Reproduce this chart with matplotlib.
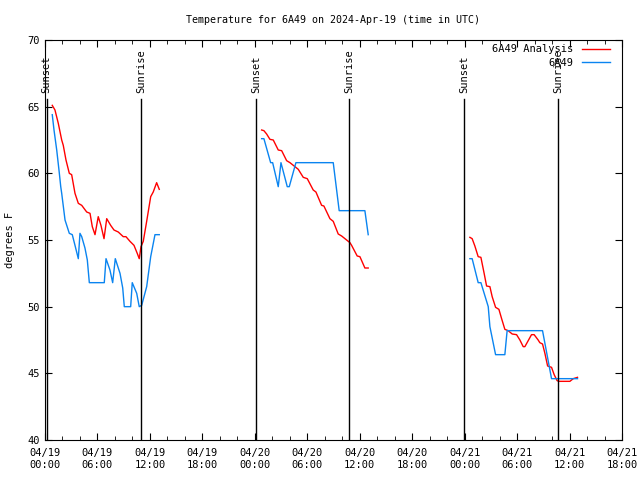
import matplotlib
matplotlib.use('Agg')
import matplotlib.pyplot as plt
import matplotlib.dates as mdates
import pandas as pd

start = pd.Timestamp('2024-04-19 00:00')

# analysis (red), hours after start; None splits the segments
ana_h = [0.83, 1.14, 1.52, 1.91, 2.09, 2.40, 2.78, 3.05, 3.43, 3.81, 4.20, 4.77, 5.15, 5.41,
         5.72, 6.09, 6.40, 6.75, 7.06, 7.51, 7.89, 8.38, 8.95, 9.26, 9.72, 10.18, 10.55,
         10.78, 10.98, 11.24, 11.63, 12.09, 12.38, 12.77, 13.07,
         None,
         24.78, 25.04, 25.35, 25.73, 26.11, 26.68, 27.07, 27.64, 28.02, 28.59, 28.97, 29.54,
         30.00, 30.68, 30.99, 31.64, 31.90, 32.59, 32.97, 33.54, 33.93, 34.88, 35.07, 35.71,
         36.02, 36.59, 36.97,
         None,
         48.60, 48.86, 49.17, 49.55, 49.86, 50.23, 50.51, 50.89, 51.15, 51.54, 51.92, 52.23,
         52.60, 52.98, 53.44, 53.94, 54.32, 54.70, 54.89, 55.27, 55.65, 55.95, 56.41, 56.60,
         56.91, 57.18, 57.49, 57.94, 58.24, 58.58, 58.78, 60.04, 60.42, 60.91]
ana_t = [65.1, 64.75, 63.75, 62.5, 62.1, 61.0, 60.0, 59.9, 58.5, 57.75, 57.6, 57.1, 57.0, 56.0,
         55.4, 56.75, 56.1, 55.1, 56.6, 56.1, 55.75, 55.6, 55.25, 55.25, 54.9, 54.6, 54.0,
         53.6, 54.5, 54.9, 56.4, 58.25, 58.6, 59.3, 58.8,
         None,
         63.25, 63.2, 62.95, 62.55, 62.5, 61.75, 61.7, 60.95, 60.8, 60.5, 60.3, 59.7,
         59.6, 58.75, 58.6, 57.6, 57.55, 56.6, 56.4, 55.45, 55.3, 54.8, 54.6, 53.8,
         53.75, 52.9, 52.9,
         None,
         55.2, 55.1, 54.55, 53.75, 53.7, 52.5, 51.55, 51.5, 50.75, 49.95, 49.8, 49.1,
         48.3, 48.2, 47.95, 47.9, 47.5, 47.0, 47.0, 47.45, 47.9, 47.9, 47.5, 47.3,
         47.2, 46.5, 45.55, 45.45, 44.9, 44.45, 44.4, 44.4, 44.6, 44.7]

# observations (blue)
obs_h = [0.83, 1.03, 1.34, 1.64, 1.80, 1.91, 2.29, 2.78, 3.12, 3.43, 3.81, 4.00, 4.20, 4.57,
         4.84, 5.07, 6.78, 6.98, 7.43, 7.74, 8.04, 8.58, 8.89, 9.07, 9.80, 9.98, 10.49,
         10.78, 11.06, 11.63, 12.09, 12.58, 13.07,
         None,
         24.78, 25.04, 25.81, 26.04, 26.68, 26.99, 27.71, 27.94, 28.70, 32.97, 33.65, 36.59,
         36.97,
         None,
         48.60, 48.86, 49.55, 49.86, 50.70, 50.89, 51.54, 52.60, 52.86, 56.91, 57.94, 60.91]
obs_t = [64.4, 63.25, 61.75, 60.0, 59.0, 58.5, 56.5, 55.5, 55.4, 54.6, 53.6, 55.5, 55.25, 54.4,
         53.5, 51.8, 51.8, 53.6, 52.75, 51.8, 53.6, 52.5, 51.4, 50.0, 50.0, 51.8, 51.0,
         50.0, 50.1, 51.5, 53.75, 55.4, 55.4,
         None,
         62.6, 62.6, 60.8, 60.8, 59.0, 60.8, 59.0, 59.0, 60.8, 60.8, 57.2, 57.2,
         55.4,
         None,
         53.6, 53.6, 51.8, 51.8, 50.0, 48.5, 46.4, 46.4, 48.2, 48.2, 44.6, 44.6]

sun_h = [0.2, 10.98, 24.13, 34.76, 47.91, 58.66]
sun_lbl = ['Sunset', 'Sunrise', 'Sunset', 'Sunrise', 'Sunset', 'Sunrise']


def segments(hours, vals):
    segs, xs, ys = [], [], []
    for h, v in zip(hours, vals):
        if h is None:
            segs.append((xs, ys))
            xs, ys = [], []
        else:
            xs.append((start + pd.Timedelta(hours=h)).to_pydatetime())
            ys.append(v)
    segs.append((xs, ys))
    return segs


plt.rcParams['font.family'] = 'DejaVu Sans Mono'
plt.rcParams['font.size'] = 7.5

fig = plt.figure(figsize=(6.4, 4.8), dpi=100)
ax = fig.add_axes([45 / 640, 40 / 480, 577 / 640, 400 / 480])

for i, (xs, ys) in enumerate(segments(ana_h, ana_t)):
    ax.plot(xs, ys, color='#ff0000', lw=1, label='6A49 Analysis' if i == 0 else None)
for i, (xs, ys) in enumerate(segments(obs_h, obs_t)):
    ax.plot(xs, ys, color='#0a84f0', lw=1, label='6A49' if i == 0 else None)

for h, lbl in zip(sun_h, sun_lbl):
    t = (start + pd.Timedelta(hours=h)).to_pydatetime()
    ax.axvline(t, ymin=0, ymax=(65.57 - 40) / 30, color='black', lw=1)
    ax.text(t, 66.0, lbl, rotation=90, ha='center', va='bottom', fontsize=7.5)

ax.set_xlim(start.to_pydatetime(), (start + pd.Timedelta(hours=66)).to_pydatetime())
ax.set_ylim(40, 70)
ax.xaxis.set_major_locator(mdates.HourLocator(byhour=[0, 6, 12, 18]))
ax.xaxis.set_minor_locator(mdates.HourLocator(byhour=range(0, 24, 2)))
ax.xaxis.set_major_formatter(mdates.DateFormatter('%m/%d\n%H:%M'))
ax.set_yticks(range(40, 71, 5))
ax.tick_params(which='both', direction='in', top=True, right=True)
ax.tick_params(which='major', length=5)
ax.tick_params(which='minor', length=3)
ax.tick_params(axis='x', pad=6)

ax.set_ylabel('degrees F', labelpad=9)
ax.set_title('Temperature for 6A49 on 2024-Apr-19 (time in UTC)', fontsize=7.2, pad=12)

leg = ax.legend(loc='upper right', bbox_to_anchor=(1 - 5 / 577, 1 + 3 / 400),
                frameon=False, markerfirst=False, handlelength=2.7,
                handletextpad=0.8, borderaxespad=0.5, borderpad=0.2, labelspacing=0.35,
                fontsize=7.5)
for t in leg.get_texts():
    t.set_ha('right')

fig.savefig('out.png', dpi=100)
